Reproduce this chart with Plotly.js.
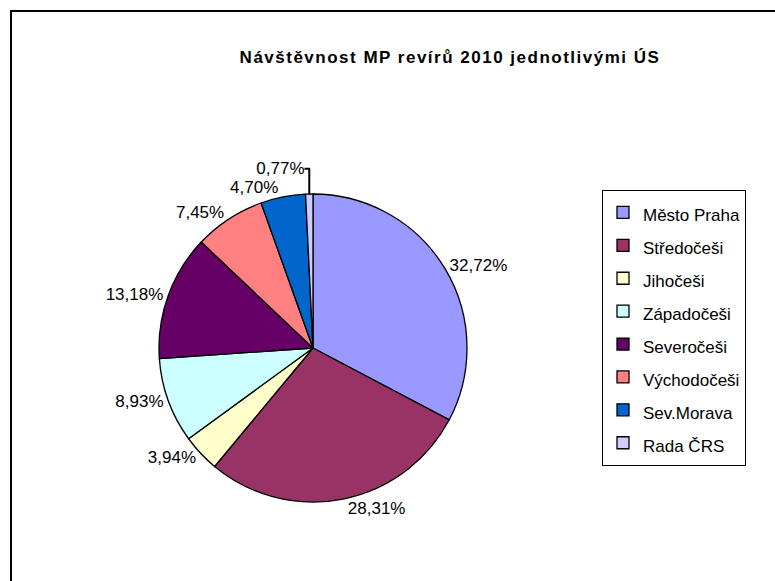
<!DOCTYPE html>
<html>
<head>
<meta charset="utf-8">
<script src="https://cdn.plot.ly/plotly-3.0.1.min.js"></script>
<style>html,body{margin:0;padding:0;background:#fff}#chart{width:775px;height:581px}</style>
</head>
<body>
<div id="chart"></div>
<script>
var categories = ["Město Praha", "Středočeši", "Jihočeši", "Západočeši", "Severočeši", "Východočeši", "Sev.Morava", "Rada ČRS"];
var shares = [32.72, 28.31, 3.94, 8.93, 13.18, 7.45, 4.70, 0.77];
var sliceColors = ["#9999FF", "#993366", "#FFFFCC", "#CCFFFF", "#660066", "#FF8080", "#0066CC", "#CCCCFF"];
var chartTitle = "Návštěvnost MP revírů 2010 jednotlivými ÚS";

var labelText = shares.map(function (v) { return v.toFixed(2).replace(".", ",") + "%"; });
var legendLabels = categories.map(function (c) { return '<span style="font-size:17px">' + c + '</span>'; });

var W = 775, H = 581;
var cx = 313, cy = 348, r = 154;

var trace = {
  type: "pie",
  labels: legendLabels,
  values: shares,
  text: labelText,
  textinfo: "text",
  textposition: "outside",
  textfont: {family: "Liberation Sans, Arial, sans-serif", size: 17, color: "#000"},
  sort: false,
  direction: "clockwise",
  rotation: 0,
  marker: {colors: sliceColors, line: {color: "#000", width: 1.3}},
  domain: {x: [(cx - r) / W, (cx + r) / W], y: [1 - (cy + r) / H, 1 - (cy - r) / H]},
  hoverinfo: "none"
};

var layout = {
  width: W, height: H,
  margin: {l: 0, r: 0, t: 0, b: 0},
  paper_bgcolor: "#fff",
  font: {family: "Liberation Sans, Arial, sans-serif", color: "#000"},
  title: {
    text: '<b><span style="letter-spacing:1.5px">' + chartTitle + '</span></b>',
    font: {family: "Liberation Sans, Arial, sans-serif", size: 17, color: "#000"},
    x: 450 / W, xanchor: "center", y: 1 - 57 / H, yanchor: "middle"
  },
  showlegend: true,
  legend: {
    x: 602 / W, xanchor: "left",
    y: 1 - 190 / H, yanchor: "top",
    bgcolor: "#fff", bordercolor: "#000", borderwidth: 1,
    font: {family: "Liberation Sans, Arial, sans-serif", size: 23, color: "#000"},
    itemclick: false, itemdoubleclick: false
  },
  shapes: [
    {type: "line", xref: "paper", yref: "paper", x0: 10 / W, x1: 1, y0: 1 - 11 / H, y1: 1 - 11 / H, line: {color: "#000", width: 2}},
    {type: "line", xref: "paper", yref: "paper", x0: 11 / W, x1: 11 / W, y0: 0, y1: 1 - 10 / H, line: {color: "#000", width: 2}}
  ]
};

Plotly.newPlot("chart", [trace], layout, {displayModeBar: false, staticPlot: true});
</script>
</body>
</html>
